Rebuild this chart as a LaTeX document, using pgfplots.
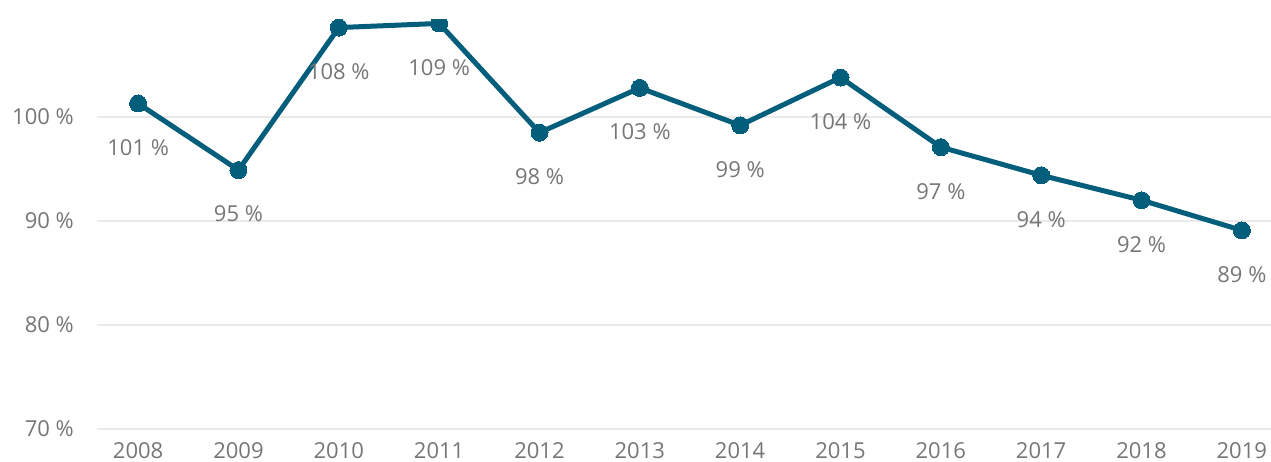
\documentclass[border=0pt]{standalone}
\usepackage{fontspec}
\setmainfont{Open Sans}
\usepackage{pgfplots}
\pgfplotsset{compat=1.18}
\definecolor{linec}{HTML}{035E7B}
\definecolor{labc}{HTML}{767676}
\definecolor{gridc}{HTML}{EAEAEA}
\begin{document}
\begin{tikzpicture}
\useasboundingbox (0,0) rectangle (1271bp,462bp);
\begin{axis}[
  at={(97bp,33bp)}, anchor=south west,
  scale only axis, width=1174bp, height=409bp,
  xmin=2007.59, xmax=2019.29,
  ymin=70, ymax=109.33,
  xtick={2008,...,2019},
  ytick={70,80,90,100},
  yticklabels={70 \%,80 \%,90 \%,100 \%},
  xticklabel={\pgfmathprintnumber[1000 sep=]{\tick}},
  /pgf/number format/assume math mode=true,
  axis line style={draw=none},
  major tick length=0pt,
  ymajorgrids, grid style={gridc, line width=1.6bp},
  tick label style={font=\fontsize{22bp}{26bp}\selectfont, text=labc, inner sep=0pt},
  yticklabel shift=23bp,
  xticklabel shift=13bp,
  clip marker paths=true,
  nodes near coords={\pgfplotspointmeta},
  point meta=explicit symbolic,
  every node near coord/.append style={font=\fontsize{22bp}{26bp}\selectfont, text=labc, anchor=center, yshift=-44bp, inner sep=0pt},
]
\addplot[linec, line width=5bp, mark=*, mark size=8.5bp, mark options={fill=linec, draw=linec, line width=0pt}]
coordinates {
(2008,101.3) [101 \%]
(2009,94.9) [95 \%]
(2010,108.6) [108 \%]
(2011,109.0) [109 \%]
(2012,98.5) [98 \%]
(2013,102.8) [103 \%]
(2014,99.2) [99 \%]
(2015,103.8) [104 \%]
(2016,97.1) [97 \%]
(2017,94.4) [94 \%]
(2018,92.0) [92 \%]
(2019,89.1) [89 \%]
};
\end{axis}
\end{tikzpicture}
\end{document}
